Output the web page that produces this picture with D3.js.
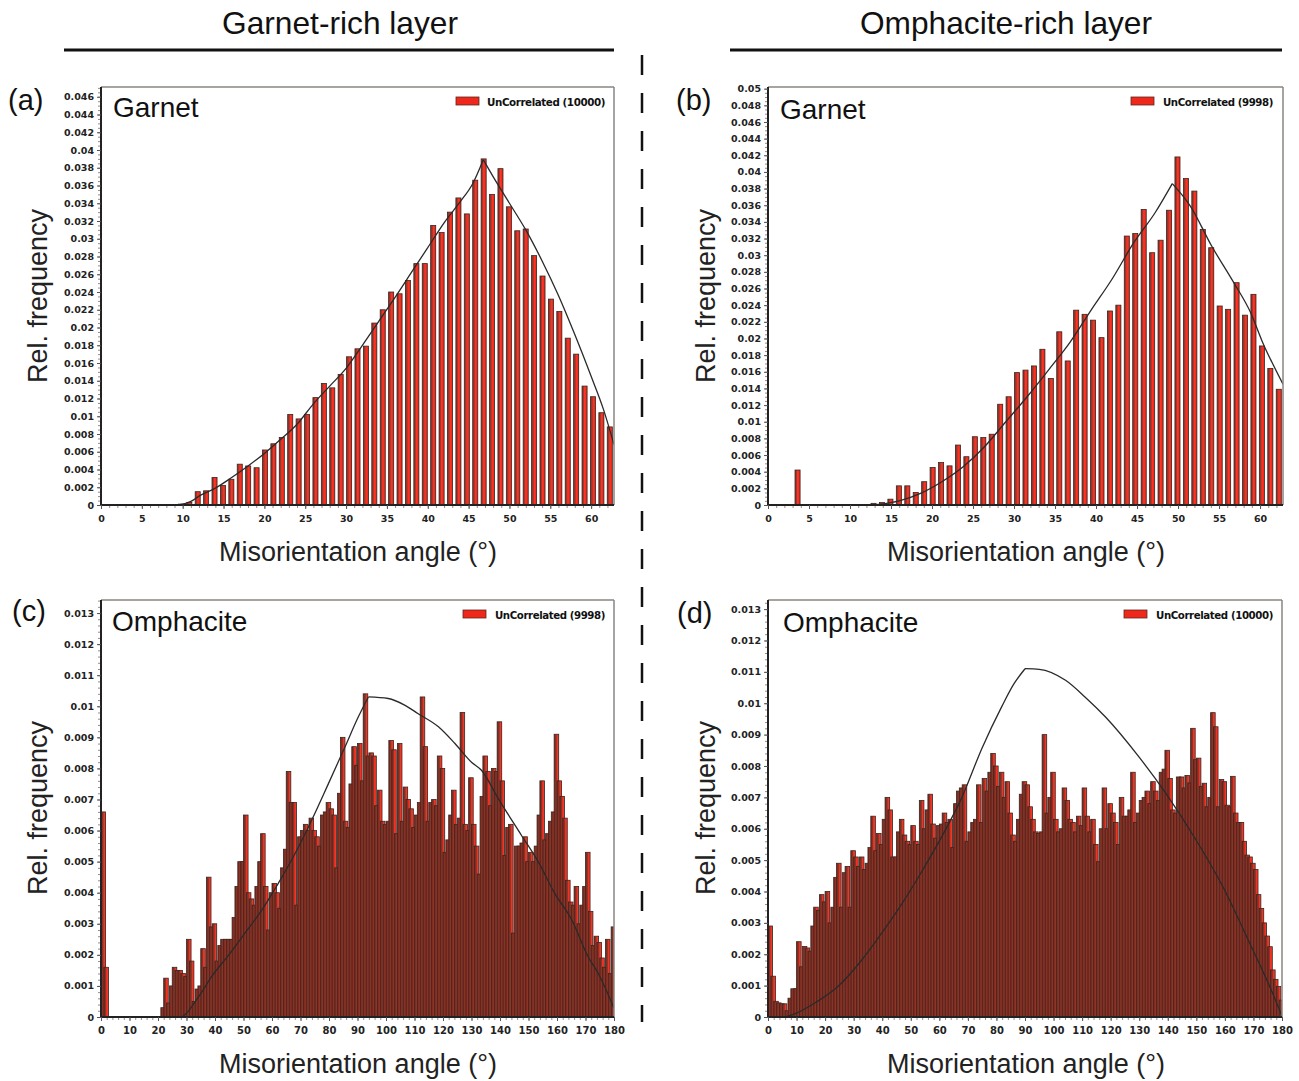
<!DOCTYPE html>
<html><head><meta charset="utf-8">
<script src="https://cdn.jsdelivr.net/npm/d3@7"></script>
<style>body{margin:0;background:#fff}svg{display:block}</style>
</head><body>
<svg id="chart" width="1299" height="1081"></svg>
<script>
// ---------------- DATA ----------------
// Garnet: 61 bins spanning 0–62.8°
const garnetBinCount = 61;
const garnetMaxAngle = 62.8;
// (a) Garnet, garnet-rich layer – relative frequency per bin (bin index 0..60)
const garnetA_freq = [
 0,0,0,0,0,0,0,0,0,0.0001,
 0.0003,0.0015,0.0016,0.0031,0.0022,0.0029,0.0046,0.0044,0.0042,0.0062,
 0.0069,0.0076,0.0102,0.0097,0.0102,0.0121,0.0137,0.0132,0.0147,0.0167,
 0.0176,0.0179,0.0205,0.0220,0.0240,0.0238,0.0253,0.0272,0.0272,0.0315,
 0.0307,0.0330,0.0346,0.0328,0.0366,0.0390,0.0350,0.0379,0.0336,0.0309,
 0.0311,0.0281,0.0258,0.0232,0.0218,0.0188,0.0170,0.0134,0.0122,0.0104,
 0.0088];
// (b) Garnet, omphacite-rich layer
const garnetB_freq = [
 0,0,0,0.0042,0,0,0,0,0,0,
 0,0,0.0002,0.0003,0.0007,0.0023,0.0023,0.0015,0.0028,0.0045,
 0.0051,0.0047,0.0072,0.0058,0.0082,0.0081,0.0085,0.0121,0.0130,0.0159,
 0.0162,0.0167,0.0187,0.0152,0.0208,0.0173,0.0234,0.0229,0.0222,0.0201,
 0.0233,0.0240,0.0323,0.0326,0.0355,0.0303,0.0318,0.0354,0.0418,0.0392,
 0.0377,0.0331,0.0309,0.0239,0.0235,0.0267,0.0228,0.0253,0.0191,0.0164,
 0.0139];
// random (uncorrelated) reference curves
const garnetA_curveAngle = [9.5,11,12,14,16,18,20,22,24,26,28,30,32,34,36,38,40,42,44,45.5,46.8,48,50,52,54,56,58,60,61.5,62.8];
const garnetA_curveFreq  = [0,0.0004,0.0010,0.0019,0.0031,0.0044,0.0058,0.0074,0.0091,0.0114,0.0134,0.0154,0.0180,0.0207,0.0234,0.0262,0.0290,0.0318,0.0342,0.0362,0.0389,0.0370,0.0340,0.0310,0.0275,0.0236,0.0192,0.0145,0.0108,0.0068];
const garnetB_curveAngle = [12.8,16,18.6,21.2,23.8,26.4,29,31.6,34.2,36.8,39.4,42,44.6,47.2,49.3,51.5,54.1,56.8,58.9,60.2,62.8];
const garnetB_curveFreq  = [0,0.0005,0.0014,0.0028,0.0046,0.0070,0.0100,0.0130,0.0162,0.0195,0.0234,0.0272,0.0315,0.0351,0.0386,0.0359,0.0311,0.0267,0.0230,0.0198,0.0145];

// Omphacite: 180 bins of 1°, values in units of 10^-3
const omphBinCount = 180;
const omphMaxAngle = 180;
const omphC_freq_e3 = [
 6.6,1.6,0,0,0,0,0,0,0,0,
 0,0,0,0,0,0,0,0,0,0,
 0,0.3,1.25,0.45,1.0,1.6,1.5,1.5,1.4,1.3,
 2.5,1.8,0.5,0.9,1.0,2.2,1.6,4.5,2.9,3.0,
 1.8,2.3,2.5,2.5,2.5,2.5,3.2,4.2,5.0,5.0,
 6.5,4.0,3.8,3.6,4.2,5.0,5.9,4.2,2.8,4.0,
 4.3,4.0,3.5,4.8,5.4,7.9,6.9,6.9,3.6,5.8,
 6.0,6.2,6.0,6.4,6.0,5.8,5.5,6.5,6.6,6.9,
 6.7,6.5,4.8,7.2,9.0,6.3,6.1,7.5,8.7,8.1,
 8.8,7.6,10.4,8.4,8.5,8.4,6.8,7.3,6.3,6.2,
 6.3,8.9,8.6,5.9,8.8,6.3,7.4,7.0,6.7,6.1,
 6.5,6.9,10.3,8.7,6.3,6.9,7.0,6.8,8.4,8.0,
 5.3,5.7,6.5,7.3,6.2,6.4,9.8,6.2,6.0,7.7,
 6.2,5.5,4.6,7.1,8.4,7.9,6.8,8.0,7.9,9.5,
 7.6,5.2,6.1,6.2,2.7,5.5,5.5,5.6,5.8,5.0,
 5.3,5.0,5.5,6.5,7.6,5.7,5.9,6.3,6.6,9.1,
 7.6,7.1,6.4,4.4,3.7,3.6,4.2,3.0,3.6,4.2,
 5.3,3.4,2.3,2.6,2.4,1.9,1.6,2.5,1.4,2.9];
const omphD_freq_e3 = [
 2.9,1.3,0.5,0.45,0.42,0.42,0.2,0.6,0.9,0.9,
 2.4,1.6,2.25,2.2,2.1,2.9,3.5,3.4,3.9,3.67,
 4.0,3.0,3.5,4.45,4.9,3.5,4.6,4.8,3.5,5.3,
 5.1,4.8,5.1,4.7,4.9,5.4,6.4,5.3,5.85,5.5,
 6.3,7.0,6.6,5.1,5.1,5.9,6.3,5.8,5.6,5.5,
 6.1,5.6,5.5,6.9,6.0,6.6,7.1,6.15,5.7,6.1,
 6.15,6.5,6.2,6.3,5.4,6.8,7.2,7.3,7.4,5.6,
 5.9,6.2,6.3,7.4,6.2,7.6,7.2,7.8,8.4,8.0,
 7.35,7.8,7.0,7.5,6.5,5.8,5.6,6.3,7.1,7.5,
 7.4,6.7,6.3,5.9,5.85,5.9,9.0,6.5,7.0,7.8,
 6.3,5.9,6.0,7.3,6.9,6.3,6.2,5.9,6.4,6.1,
 7.3,6.4,5.9,6.3,5.5,4.95,6.0,7.3,6.0,6.8,
 6.5,6.2,5.5,7.0,6.4,6.4,6.6,7.8,6.2,6.5,
 6.9,7.0,7.2,6.8,7.5,7.2,6.9,7.8,7.9,8.5,
 7.6,6.6,6.5,7.65,7.65,7.3,7.7,7.46,9.2,8.2,
 8.25,7.35,7.45,6.7,7.0,9.7,9.25,6.7,7.57,7.5,
 6.75,6.7,7.67,6.5,6.2,6.2,5.6,5.16,5.1,4.9,
 4.7,3.9,3.46,3.0,2.58,2.24,1.5,1.2,0.97,0.54];
const omphC_curveAngle = [28.3,30,33,35,38.8,44.7,50.5,56.4,62.2,68.1,73.9,79.8,85.6,90.3,93.8,100.8,106.7,111.3,118.4,124.2,130,133.5,139.4,147.5,153.4,159.2,165.2,170.9,174.5,180];
const omphC_curveFreq  = [0,0.00012,0.00049,0.00075,0.0013,0.00198,0.0027,0.00344,0.0043,0.00526,0.00633,0.00751,0.00869,0.00966,0.0103,0.01025,0.01003,0.00976,0.00934,0.0088,0.0082,0.00794,0.00703,0.00585,0.0050,0.00398,0.00312,0.00194,0.0014,0.00028];
const omphD_curveAngle = [5,7,10.4,16.3,24.5,32.7,39.7,46.8,53.8,60.8,67.9,74.9,81.9,86,90,95,104.2,111,118.2,129.9,139.4,149.9,159.3,168.7,175.7,180];
const omphD_curveFreq  = [0,0.00003,0.00014,0.00044,0.00097,0.0018,0.00266,0.0036,0.00463,0.00574,0.0070,0.00856,0.0099,0.0106,0.0111,0.01108,0.01073,0.0102,0.00956,0.00829,0.00712,0.00564,0.00415,0.00235,0.00097,0.00003];

// tick labels
const garnetA_yTicks = [0,0.002,0.004,0.006,0.008,0.01,0.012,0.014,0.016,0.018,0.02,0.022,0.024,0.026,0.028,0.03,0.032,0.034,0.036,0.038,0.04,0.042,0.044,0.046];
const garnetB_yTicks = [0,0.002,0.004,0.006,0.008,0.01,0.012,0.014,0.016,0.018,0.02,0.022,0.024,0.026,0.028,0.03,0.032,0.034,0.036,0.038,0.04,0.042,0.044,0.046,0.048,0.05];
const omph_yTicks = [0,0.001,0.002,0.003,0.004,0.005,0.006,0.007,0.008,0.009,0.01,0.011,0.012,0.013];
const garnet_xTicks = [0,5,10,15,20,25,30,35,40,45,50,55,60];
const omph_xTicks = [0,10,20,30,40,50,60,70,80,90,100,110,120,130,140,150,160,170,180];

const headers = ["Garnet-rich layer","Omphacite-rich layer"];
const panelLetters = ["(a)","(b)","(c)","(d)"];
const minerals = ["Garnet","Garnet","Omphacite","Omphacite"];
const legendLabels = ["UnCorrelated (10000)","UnCorrelated (9998)","UnCorrelated (9998)","UnCorrelated (10000)"];
const yTitle = "Rel. frequency";
const xTitle = "Misorientation angle (°)";

// ---------------- DRAWING ----------------
const svg = d3.select("#chart");
const SANS = "'Liberation Sans', Arial, Helvetica, sans-serif";
const TICKF = "'DejaVu Sans', Verdana, sans-serif";

const defs = svg.append("defs");
function makeGrad(id, stops){
  const gr = defs.append("linearGradient").attr("id",id).attr("x1","0").attr("x2","1").attr("y1","0").attr("y2","0");
  stops.forEach(([o,c])=>gr.append("stop").attr("offset",o).attr("stop-color",c));
}
makeGrad("barGradG", [["0%","#8a2c22"],["40%","#b03a2e"],["48%","#ff3424"],["85%","#f22a1c"],["100%","#b02519"]]);
makeGrad("barGradO", [["0%","#6e2419"],["50%","#94382b"],["60%","#f03020"],["90%","#ff3626"],["100%","#c0281a"]]);

// headers
svg.append("text").attr("x",340).attr("y",34).attr("text-anchor","middle")
  .attr("font-family",SANS).attr("font-size",32).attr("fill","#111")
  .attr("textLength",236).attr("lengthAdjust","spacingAndGlyphs").text(headers[0]);
svg.append("text").attr("x",1006).attr("y",34).attr("text-anchor","middle")
  .attr("font-family",SANS).attr("font-size",32).attr("fill","#111")
  .attr("textLength",292).attr("lengthAdjust","spacingAndGlyphs").text(headers[1]);
svg.append("line").attr("x1",64).attr("x2",614).attr("y1",50).attr("y2",50).attr("stroke","#111").attr("stroke-width",3);
svg.append("line").attr("x1",730).attr("x2",1282).attr("y1",50).attr("y2",50).attr("stroke","#111").attr("stroke-width",3);
svg.append("line").attr("x1",642).attr("x2",642).attr("y1",55).attr("y2",1022)
  .attr("stroke","#111").attr("stroke-width",2.5).attr("stroke-dasharray","20 18");

const panels = [
 {i:0, box:{l:101,r:614,t:87,b:505}, xMax:garnetMaxAngle, yMax:0.0471, freq:garnetA_freq, scale:1, bins:garnetBinCount,
  cA:garnetA_curveAngle, cF:garnetA_curveFreq, yT:garnetA_yTicks, yMinor:0.0005, xT:garnet_xTicks, xMinor:1, garnet:true,
  lab:{x:8,y:110}, min:{x:113,y:117}, yl:{x:47,y:296}, xl:{x:358,y:561}, leg:{sx:456,sy:97,tx:487,ty:106,len:118}},
 {i:1, box:{l:768,r:1283,t:87,b:505}, xMax:garnetMaxAngle, yMax:0.0502, freq:garnetB_freq, scale:1, bins:garnetBinCount,
  cA:garnetB_curveAngle, cF:garnetB_curveFreq, yT:garnetB_yTicks, yMinor:0.0005, xT:garnet_xTicks, xMinor:1, garnet:true,
  lab:{x:676,y:110}, min:{x:780,y:119}, yl:{x:715,y:296}, xl:{x:1026,y:561}, leg:{sx:1131,sy:97,tx:1163,ty:106,len:110}},
 {i:2, box:{l:101,r:614,t:600,b:1017}, xMax:omphMaxAngle, yMax:0.01342, freq:omphC_freq_e3, scale:0.001, bins:omphBinCount,
  cA:omphC_curveAngle, cF:omphC_curveFreq, yT:omph_yTicks, yMinor:0.0002, xT:omph_xTicks, xMinor:2, garnet:false,
  lab:{x:12,y:621}, min:{x:112,y:631}, yl:{x:47,y:808}, xl:{x:358,y:1073}, leg:{sx:463,sy:610,tx:495,ty:619,len:110}},
 {i:3, box:{l:768,r:1282,t:600,b:1017}, xMax:omphMaxAngle, yMax:0.01329, freq:omphD_freq_e3, scale:0.001, bins:omphBinCount,
  cA:omphD_curveAngle, cF:omphD_curveFreq, yT:omph_yTicks, yMinor:0.0002, xT:omph_xTicks, xMinor:2, garnet:false,
  lab:{x:677,y:623}, min:{x:783,y:632}, yl:{x:715,y:808}, xl:{x:1026,y:1073}, leg:{sx:1124,sy:610,tx:1156,ty:619,len:117}}
];

const fmt = d => d === 0 ? "0" : String(+d.toFixed(4));

panels.forEach(p => {
  const B = p.box;
  const x = d3.scaleLinear().domain([0, p.xMax]).range([B.l, B.r]);
  const y = d3.scaleLinear().domain([0, p.yMax]).range([B.b, B.t]);
  const g = svg.append("g");
  const clipId = "clip"+p.i;
  defs.append("clipPath").attr("id",clipId).append("rect")
    .attr("x",B.l).attr("y",B.t).attr("width",B.r-B.l).attr("height",B.b-B.t);

  const data = p.freq.map((v,k)=>({k, v:v*p.scale})).filter(d=>d.v>0);
  const band = d3.scaleBand().domain(d3.range(p.bins)).range([x(0), x(p.xMax)]);
  let bw;
  if (p.garnet) { band.paddingInner(0.4).paddingOuter(0.2); bw = band.bandwidth(); }
  else { band.padding(0); bw = band.step()*1.6; }
  const plot = g.append("g").attr("clip-path",`url(#${clipId})`);
  plot.selectAll("rect.bar").data(data).join("rect").attr("class","bar")
    .attr("x",d=>band(d.k)).attr("width",bw)
    .attr("y",d=>y(d.v)).attr("height",d=>y(0)-y(d.v))
    .attr("fill",p.garnet?"url(#barGradG)":"url(#barGradO)")
    .attr("stroke","#3a2520").attr("stroke-width",0.8);

  // reference curve: two monotone pieces meeting at the peak (cusp)
  const pts = p.cA.map((a,i)=>[a,p.cF[i]]);
  const peak = d3.maxIndex(p.cF);
  const line = d3.line().x(d=>x(d[0])).y(d=>y(d[1])).curve(d3.curveMonotoneX);
  [pts.slice(0,peak+1), pts.slice(peak)].forEach(seg=>{
    plot.append("path").datum(seg).attr("d",line).attr("fill","none")
      .attr("stroke","#2a2a2a").attr("stroke-width",1.3);
  });

  // frame
  g.append("line").attr("x1",B.l).attr("x2",B.r).attr("y1",B.t).attr("y2",B.t).attr("stroke","#8a8580").attr("stroke-width",1.5);
  g.append("line").attr("x1",B.r).attr("x2",B.r).attr("y1",B.t).attr("y2",B.b).attr("stroke","#8a8580").attr("stroke-width",1.5);

  // minor ticks
  const yMinorVals = d3.range(0, p.yMax + 1e-9, p.yMinor);
  g.append("g").attr("transform",`translate(${B.l},0)`)
    .call(d3.axisLeft(y).tickValues(yMinorVals).tickSize(3).tickFormat(""))
    .call(s=>{s.select(".domain").remove(); s.selectAll("line").attr("stroke","#9a8a80");});
  const xMinorVals = d3.range(0, p.xMax + 1e-9, p.xMinor);
  g.append("g").attr("transform",`translate(0,${B.b})`)
    .call(d3.axisBottom(x).tickValues(xMinorVals).tickSize(3).tickFormat(""))
    .call(s=>{s.select(".domain").remove(); s.selectAll("line").attr("stroke","#9a8a80");});

  // major axes
  const ya = g.append("g").attr("transform",`translate(${B.l},0)`)
    .call(d3.axisLeft(y).tickValues(p.yT).tickSize(4).tickPadding(3).tickFormat(fmt));
  ya.select(".domain").attr("stroke","#222").attr("stroke-width",2).attr("d",`M0,${B.t}V${B.b}`);
  ya.selectAll("line").attr("stroke","#555");
  ya.selectAll("text").attr("font-family",TICKF).attr("font-weight","bold").attr("font-size",9.5).attr("fill","#222");

  const xa = g.append("g").attr("transform",`translate(0,${B.b})`)
    .call(d3.axisBottom(x).tickValues(p.xT).tickSize(4).tickPadding(6).tickFormat(d=>String(d)));
  xa.select(".domain").attr("stroke","#222").attr("stroke-width",2).attr("d",`M${B.l},0H${B.r}`);
  xa.selectAll("line").attr("stroke","#555");
  xa.selectAll("text").attr("font-family",TICKF).attr("font-weight","bold").attr("font-size",p.garnet?9.5:10).attr("fill","#222");

  // texts
  svg.append("text").attr("x",p.lab.x).attr("y",p.lab.y).attr("font-family",SANS).attr("font-size",29).attr("fill","#111").text(panelLetters[p.i]);
  svg.append("text").attr("x",p.min.x).attr("y",p.min.y).attr("font-family",SANS).attr("font-size",28).attr("fill","#111").text(minerals[p.i]);
  svg.append("text").attr("transform",`translate(${p.yl.x},${p.yl.y}) rotate(-90)`).attr("text-anchor","middle")
    .attr("font-family",SANS).attr("font-size",27).attr("fill","#222").text(yTitle);
  svg.append("text").attr("x",p.xl.x).attr("y",p.xl.y).attr("text-anchor","middle")
    .attr("font-family",SANS).attr("font-size",27).attr("fill","#222").text(xTitle);

  // legend
  svg.append("rect").attr("x",p.leg.sx).attr("y",p.leg.sy).attr("width",23).attr("height",8)
    .attr("fill","#f0281c").attr("stroke","#5a2a20").attr("stroke-width",0.8);
  svg.append("text").attr("x",p.leg.tx).attr("y",p.leg.ty).attr("font-family",TICKF).attr("font-size",10)
    .attr("font-weight","bold").attr("letter-spacing",-0.4)
    .attr("fill","#111").attr("textLength",p.leg.len).attr("lengthAdjust","spacingAndGlyphs").text(legendLabels[p.i]);
});
</script>
</body></html>
